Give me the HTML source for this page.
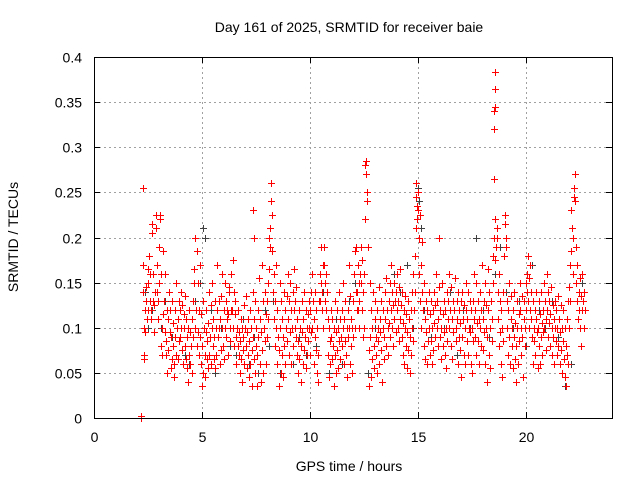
<!DOCTYPE html>
<html><head><meta charset="utf-8"><style>
html,body{margin:0;padding:0;background:#fff;}
svg{display:block;font-family:"Liberation Sans",sans-serif;}
</style></head><body>
<svg id="chart" width="640" height="480" viewBox="0 0 640 480" xmlns="http://www.w3.org/2000/svg">
<text x="349" y="32" font-size="14" text-anchor="middle">Day 161 of 2025, SRMTID for receiver baie</text>
<text x="349" y="471" font-size="14" text-anchor="middle">GPS time / hours</text>
<text x="0" y="0" font-size="14" text-anchor="middle" transform="translate(18,237) rotate(-90)">SRMTID / TECUs</text>
<g id="grid"></g>
<g id="ticks"></g>
<g id="black"></g>
<g id="red"></g>
<rect x="94.5" y="57.5" width="518" height="361" fill="none" stroke="#000" stroke-width="1"/>
</svg>
<script>
const xTicks=[0,5,10,15,20];
const yTicks=[0,0.05,0.1,0.15,0.2,0.25,0.3,0.35,0.4];
const yTickLabels=["0","0.05","0.1","0.15","0.2","0.25","0.3","0.35","0.4"];
const redPoints=[
[2.2,0.0],[2.2,0.002],[2.25,0.255],[2.25,0.14],[2.28,0.17],[2.3,0.07],[2.3,0.065],[2.32,0.1],[2.35,0.12],[2.36,0.095],[2.4,0.145],[2.42,0.13],[2.45,0.11],[2.48,0.165],[2.5,0.12],[2.52,0.15],[2.55,0.18],[2.58,0.13],[2.6,0.16],[2.62,0.11],[2.65,0.12],[2.68,0.205],[2.7,0.215],[2.72,0.13],[2.75,0.16],[2.78,0.095],[2.8,0.125],[2.82,0.14],[2.85,0.225],[2.87,0.21],[2.9,0.14],[2.92,0.17],[2.95,0.11],[2.97,0.13],[3.0,0.15],[3.02,0.19],[3.05,0.225],[3.07,0.22],[3.1,0.08],[3.12,0.16],[3.15,0.1],[3.17,0.07],[3.2,0.185],[3.22,0.115],[3.25,0.13],[3.27,0.095],[3.3,0.16],[3.32,0.085],[3.35,0.07],[3.37,0.12],[3.4,0.05],[3.42,0.11],[3.45,0.075],[3.47,0.14],[3.5,0.095],[3.52,0.12],[3.55,0.055],[3.57,0.09],[3.6,0.065],[3.62,0.13],[3.65,0.08],[3.67,0.105],[3.7,0.045],[3.72,0.06],[3.75,0.09],[3.77,0.12],[3.8,0.07],[3.82,0.15],[3.85,0.1],[3.87,0.065],[3.9,0.11],[3.92,0.13],[3.95,0.085],[3.97,0.12],[4.0,0.09],[4.02,0.14],[4.05,0.1],[4.07,0.075],[4.1,0.125],[4.12,0.06],[4.15,0.115],[4.17,0.1],[4.2,0.08],[4.22,0.135],[4.25,0.11],[4.27,0.065],[4.3,0.09],[4.32,0.055],[4.35,0.1],[4.37,0.04],[4.4,0.07],[4.42,0.12],[4.45,0.095],[4.47,0.06],[4.5,0.08],[4.52,0.11],[4.55,0.05],[4.57,0.13],[4.6,0.09],[4.62,0.15],[4.65,0.165],[4.67,0.1],[4.7,0.2],[4.72,0.12],[4.75,0.185],[4.77,0.08],[4.8,0.15],[4.82,0.095],[4.85,0.12],[4.87,0.07],[4.9,0.17],[4.92,0.09],[4.95,0.06],[4.97,0.115],[5.0,0.035],[5.02,0.08],[5.05,0.13],[5.07,0.05],[5.1,0.1],[5.12,0.07],[5.15,0.045],[5.17,0.095],[5.2,0.12],[5.22,0.065],[5.25,0.085],[5.27,0.055],[5.3,0.105],[5.32,0.14],[5.35,0.07],[5.37,0.09],[5.4,0.125],[5.42,0.06],[5.45,0.1],[5.47,0.15],[5.5,0.08],[5.52,0.11],[5.55,0.065],[5.57,0.09],[5.6,0.13],[5.62,0.055],[5.65,0.1],[5.67,0.07],[5.7,0.17],[5.72,0.12],[5.75,0.09],[5.77,0.13],[5.8,0.1],[5.82,0.06],[5.85,0.11],[5.87,0.075],[5.9,0.135],[5.92,0.1],[5.95,0.16],[5.97,0.08],[6.0,0.12],[6.02,0.065],[6.05,0.1],[6.07,0.15],[6.1,0.09],[6.12,0.13],[6.15,0.11],[6.17,0.12],[6.2,0.07],[6.22,0.115],[6.25,0.145],[6.27,0.14],[6.3,0.1],[6.32,0.085],[6.35,0.12],[6.37,0.16],[6.4,0.12],[6.42,0.175],[6.45,0.1],[6.47,0.14],[6.5,0.08],[6.52,0.115],[6.55,0.13],[6.57,0.09],[6.6,0.06],[6.62,0.1],[6.65,0.08],[6.67,0.12],[6.7,0.07],[6.72,0.095],[6.75,0.05],[6.77,0.085],[6.8,0.11],[6.82,0.065],[6.85,0.1],[6.87,0.04],[6.9,0.075],[6.92,0.09],[6.95,0.125],[6.97,0.06],[7.0,0.1],[7.02,0.08],[7.05,0.135],[7.07,0.055],[7.1,0.095],[7.12,0.07],[7.15,0.11],[7.17,0.045],[7.2,0.085],[7.22,0.12],[7.25,0.06],[7.27,0.1],[7.3,0.035],[7.32,0.075],[7.35,0.14],[7.37,0.09],[7.38,0.23],[7.4,0.065],[7.42,0.2],[7.42,0.11],[7.45,0.05],[7.47,0.13],[7.5,0.08],[7.52,0.1],[7.55,0.035],[7.57,0.07],[7.6,0.12],[7.62,0.09],[7.65,0.155],[7.67,0.06],[7.7,0.11],[7.72,0.04],[7.75,0.095],[7.77,0.17],[7.8,0.075],[7.82,0.13],[7.85,0.05],[7.87,0.1],[7.9,0.14],[7.92,0.085],[7.95,0.06],[7.97,0.115],[8.0,0.13],[8.02,0.09],[8.05,0.15],[8.07,0.11],[8.1,0.165],[8.12,0.2],[8.15,0.21],[8.17,0.19],[8.2,0.26],[8.22,0.24],[8.25,0.225],[8.27,0.185],[8.3,0.14],[8.32,0.16],[8.35,0.11],[8.37,0.13],[8.4,0.08],[8.42,0.17],[8.45,0.1],[8.47,0.06],[8.5,0.12],[8.52,0.09],[8.55,0.035],[8.57,0.075],[8.6,0.15],[8.62,0.1],[8.65,0.05],[8.67,0.13],[8.7,0.07],[8.72,0.11],[8.75,0.045],[8.77,0.09],[8.8,0.14],[8.82,0.08],[8.85,0.12],[8.87,0.06],[8.9,0.1],[8.92,0.135],[8.95,0.085],[8.97,0.16],[9.0,0.11],[9.02,0.07],[9.05,0.13],[9.07,0.095],[9.1,0.15],[9.12,0.12],[9.15,0.06],[9.17,0.1],[9.2,0.14],[9.22,0.08],[9.25,0.165],[9.27,0.12],[9.3,0.13],[9.32,0.1],[9.35,0.145],[9.37,0.09],[9.4,0.07],[9.42,0.11],[9.45,0.05],[9.47,0.085],[9.5,0.12],[9.52,0.065],[9.55,0.1],[9.57,0.04],[9.6,0.08],[9.62,0.13],[9.65,0.095],[9.67,0.06],[9.7,0.11],[9.72,0.075],[9.75,0.14],[9.77,0.09],[9.8,0.12],[9.82,0.055],[9.85,0.1],[9.87,0.07],[9.9,0.115],[9.92,0.085],[9.95,0.13],[9.97,0.1],[10.0,0.07],[10.02,0.12],[10.05,0.095],[10.07,0.14],[10.1,0.16],[10.12,0.1],[10.15,0.13],[10.17,0.06],[10.2,0.11],[10.22,0.09],[10.25,0.14],[10.27,0.075],[10.3,0.12],[10.32,0.05],[10.35,0.1],[10.37,0.07],[10.4,0.04],[10.42,0.13],[10.45,0.16],[10.47,0.13],[10.5,0.15],[10.52,0.19],[10.55,0.14],[10.57,0.12],[10.6,0.17],[10.62,0.1],[10.65,0.17],[10.67,0.19],[10.7,0.13],[10.72,0.15],[10.75,0.12],[10.77,0.16],[10.8,0.14],[10.82,0.11],[10.85,0.07],[10.87,0.1],[10.9,0.045],[10.92,0.085],[10.95,0.06],[10.97,0.12],[11.0,0.09],[11.02,0.065],[11.05,0.11],[11.07,0.08],[11.1,0.035],[11.12,0.1],[11.15,0.07],[11.17,0.13],[11.2,0.05],[11.22,0.095],[11.25,0.12],[11.27,0.075],[11.3,0.1],[11.32,0.055],[11.35,0.085],[11.37,0.14],[11.4,0.11],[11.42,0.065],[11.45,0.09],[11.47,0.12],[11.5,0.08],[11.52,0.15],[11.55,0.1],[11.57,0.06],[11.6,0.11],[11.62,0.085],[11.65,0.13],[11.67,0.07],[11.7,0.1],[11.72,0.045],[11.75,0.09],[11.77,0.12],[11.8,0.17],[11.82,0.1],[11.85,0.06],[11.87,0.135],[11.9,0.08],[11.92,0.11],[11.95,0.05],[11.97,0.1],[12.0,0.09],[12.02,0.13],[12.05,0.16],[12.07,0.1],[12.1,0.185],[12.12,0.14],[12.15,0.19],[12.17,0.12],[12.2,0.14],[12.22,0.12],[12.24,0.17],[12.26,0.1],[12.28,0.15],[12.3,0.13],[12.32,0.16],[12.35,0.19],[12.37,0.15],[12.4,0.12],[12.42,0.175],[12.45,0.09],[12.47,0.14],[12.5,0.1],[12.52,0.16],[12.55,0.22],[12.57,0.28],[12.6,0.285],[12.62,0.27],[12.65,0.25],[12.67,0.24],[12.7,0.19],[12.72,0.035],[12.75,0.075],[12.77,0.15],[12.8,0.09],[12.82,0.045],[12.85,0.12],[12.87,0.065],[12.9,0.1],[12.92,0.14],[12.95,0.08],[12.97,0.055],[13.0,0.11],[13.02,0.13],[13.05,0.09],[13.07,0.07],[13.1,0.12],[13.12,0.05],[13.15,0.1],[13.17,0.085],[13.2,0.145],[13.22,0.06],[13.25,0.11],[13.27,0.095],[13.3,0.13],[13.32,0.075],[13.35,0.04],[13.37,0.1],[13.4,0.12],[13.42,0.065],[13.45,0.09],[13.47,0.14],[13.5,0.11],[13.52,0.08],[13.55,0.155],[13.57,0.12],[13.6,0.1],[13.62,0.07],[13.65,0.13],[13.67,0.105],[13.7,0.15],[13.72,0.09],[13.75,0.12],[13.77,0.17],[13.8,0.14],[13.82,0.1],[13.85,0.125],[13.87,0.08],[13.9,0.15],[13.92,0.11],[13.95,0.13],[13.97,0.095],[14.0,0.14],[14.02,0.12],[14.05,0.16],[14.07,0.1],[14.1,0.13],[14.12,0.085],[14.15,0.145],[14.17,0.11],[14.2,0.165],[14.22,0.125],[14.25,0.09],[14.27,0.14],[14.3,0.105],[14.32,0.07],[14.35,0.12],[14.37,0.06],[14.4,0.1],[14.42,0.135],[14.45,0.08],[14.47,0.115],[14.5,0.055],[14.52,0.095],[14.55,0.13],[14.57,0.075],[14.6,0.11],[14.62,0.05],[14.65,0.09],[14.67,0.12],[14.7,0.07],[14.72,0.1],[14.75,0.14],[14.77,0.085],[14.8,0.16],[14.82,0.12],[14.85,0.18],[14.87,0.14],[14.9,0.21],[14.92,0.245],[14.94,0.26],[14.96,0.235],[14.98,0.22],[15.0,0.25],[15.02,0.23],[15.05,0.2],[15.07,0.16],[15.1,0.225],[15.12,0.13],[15.15,0.17],[15.17,0.1],[15.2,0.14],[15.22,0.195],[15.25,0.12],[15.27,0.08],[15.3,0.15],[15.32,0.11],[15.35,0.065],[15.37,0.13],[15.4,0.095],[15.42,0.06],[15.45,0.12],[15.47,0.085],[15.5,0.14],[15.52,0.1],[15.55,0.07],[15.57,0.115],[15.6,0.13],[15.62,0.085],[15.65,0.06],[15.67,0.1],[15.7,0.12],[15.72,0.075],[15.75,0.14],[15.77,0.105],[15.8,0.09],[15.82,0.125],[15.85,0.16],[15.87,0.1],[15.9,0.13],[15.92,0.08],[15.95,0.11],[15.97,0.145],[16.0,0.2],[16.02,0.09],[16.05,0.12],[16.07,0.065],[16.1,0.1],[16.12,0.15],[16.15,0.08],[16.17,0.115],[16.2,0.13],[16.22,0.095],[16.25,0.07],[16.27,0.12],[16.3,0.1],[16.32,0.055],[16.35,0.14],[16.37,0.085],[16.4,0.11],[16.42,0.13],[16.45,0.16],[16.47,0.1],[16.5,0.12],[16.52,0.08],[16.55,0.145],[16.57,0.11],[16.6,0.065],[16.62,0.13],[16.65,0.095],[16.7,0.12],[16.72,0.155],[16.75,0.1],[16.77,0.085],[16.8,0.13],[16.82,0.11],[16.85,0.06],[16.87,0.14],[16.9,0.09],[16.92,0.12],[16.95,0.075],[16.97,0.105],[17.0,0.13],[17.02,0.045],[17.05,0.09],[17.07,0.14],[17.1,0.11],[17.12,0.07],[17.15,0.125],[17.17,0.1],[17.2,0.06],[17.22,0.15],[17.25,0.12],[17.27,0.085],[17.3,0.11],[17.32,0.14],[17.35,0.07],[17.37,0.1],[17.4,0.13],[17.42,0.095],[17.45,0.06],[17.47,0.12],[17.5,0.1],[17.52,0.05],[17.55,0.085],[17.57,0.13],[17.6,0.11],[17.62,0.16],[17.65,0.09],[17.67,0.12],[17.7,0.07],[17.72,0.15],[17.75,0.105],[17.77,0.13],[17.8,0.085],[17.82,0.11],[17.85,0.06],[17.87,0.14],[17.9,0.1],[17.92,0.12],[17.95,0.08],[17.97,0.17],[18.0,0.11],[18.02,0.075],[18.05,0.13],[18.07,0.095],[18.1,0.15],[18.12,0.06],[18.15,0.1],[18.17,0.125],[18.2,0.04],[18.22,0.09],[18.25,0.165],[18.27,0.12],[18.3,0.07],[18.32,0.14],[18.35,0.1],[18.37,0.055],[18.4,0.13],[18.42,0.085],[18.45,0.11],[18.47,0.18],[18.5,0.15],[18.52,0.2],[18.54,0.265],[18.55,0.32],[18.55,0.34],[18.56,0.345],[18.56,0.365],[18.57,0.383],[18.58,0.22],[18.6,0.175],[18.62,0.19],[18.65,0.21],[18.67,0.2],[18.7,0.14],[18.72,0.11],[18.75,0.16],[18.77,0.08],[18.8,0.13],[18.82,0.095],[18.85,0.06],[18.87,0.12],[18.9,0.1],[18.92,0.045],[18.95,0.085],[18.97,0.14],[19.0,0.18],[19.02,0.225],[19.05,0.215],[19.07,0.19],[19.1,0.2],[19.12,0.13],[19.15,0.1],[19.17,0.07],[19.2,0.12],[19.22,0.09],[19.25,0.15],[19.27,0.06],[19.3,0.11],[19.32,0.135],[19.35,0.08],[19.37,0.1],[19.4,0.055],[19.42,0.12],[19.45,0.09],[19.47,0.14],[19.5,0.065],[19.52,0.105],[19.55,0.04],[19.57,0.08],[19.6,0.13],[19.62,0.1],[19.65,0.06],[19.67,0.115],[19.7,0.085],[19.72,0.15],[19.75,0.12],[19.77,0.07],[19.8,0.1],[19.82,0.135],[19.85,0.09],[19.87,0.045],[19.9,0.11],[19.92,0.13],[19.95,0.08],[19.97,0.1],[20.0,0.15],[20.02,0.12],[20.05,0.16],[20.07,0.14],[20.1,0.18],[20.12,0.13],[20.15,0.1],[20.17,0.155],[20.2,0.12],[20.22,0.17],[20.25,0.11],[20.27,0.14],[20.3,0.09],[20.32,0.13],[20.35,0.06],[20.37,0.1],[20.4,0.085],[20.42,0.12],[20.45,0.07],[20.47,0.11],[20.5,0.14],[20.52,0.095],[20.55,0.055],[20.57,0.1],[20.6,0.13],[20.62,0.08],[20.65,0.115],[20.67,0.06],[20.7,0.09],[20.72,0.14],[20.75,0.105],[20.77,0.07],[20.8,0.12],[20.82,0.095],[20.85,0.15],[20.87,0.1],[20.9,0.13],[20.92,0.075],[20.95,0.11],[20.97,0.16],[21.0,0.12],[21.02,0.09],[21.05,0.14],[21.07,0.105],[21.1,0.13],[21.12,0.08],[21.15,0.115],[21.17,0.145],[21.2,0.1],[21.22,0.07],[21.25,0.125],[21.27,0.09],[21.3,0.11],[21.32,0.06],[21.35,0.1],[21.37,0.13],[21.4,0.085],[21.42,0.12],[21.45,0.07],[21.47,0.1],[21.5,0.135],[21.52,0.08],[21.55,0.11],[21.57,0.06],[21.6,0.095],[21.62,0.125],[21.65,0.075],[21.67,0.1],[21.7,0.05],[21.72,0.085],[21.75,0.12],[21.77,0.065],[21.8,0.1],[21.82,0.045],[21.85,0.08],[21.87,0.035],[21.9,0.11],[21.92,0.07],[21.95,0.13],[21.97,0.06],[22.0,0.1],[22.02,0.145],[22.05,0.17],[22.07,0.13],[22.1,0.185],[22.12,0.23],[22.15,0.21],[22.17,0.16],[22.2,0.2],[22.22,0.245],[22.25,0.255],[22.27,0.27],[22.3,0.24],[22.32,0.19],[22.35,0.15],[22.37,0.13],[22.4,0.17],[22.42,0.11],[22.45,0.14],[22.47,0.12],[22.5,0.155],[22.52,0.1],[22.55,0.135],[22.57,0.08],[22.6,0.12],[22.62,0.16],[22.65,0.13],[22.68,0.1],[22.7,0.14],[22.73,0.12]
];
const blackPoints=[
[2.35,0.14],[2.5,0.1],[2.7,0.12],[3.1,0.1],[3.3,0.13],[3.6,0.09],[3.9,0.11],[4.2,0.07],[4.4,0.06],[4.7,0.13],[4.9,0.15],[5.05,0.21],[5.15,0.2],[5.4,0.12],[5.6,0.05],[5.9,0.1],[6.1,0.13],[6.3,0.08],[6.6,0.07],[6.9,0.11],[7.2,0.06],[7.4,0.09],[7.6,0.05],[7.9,0.12],[8.1,0.08],[8.3,0.13],[8.6,0.05],[8.9,0.1],[9.2,0.06],[9.5,0.09],[9.8,0.07],[10.0,0.12],[10.3,0.08],[10.6,0.14],[10.9,0.05],[11.2,0.11],[11.5,0.06],[11.8,0.13],[12.1,0.15],[12.4,0.12],[12.7,0.05],[13.0,0.1],[13.3,0.13],[13.6,0.07],[13.9,0.16],[14.2,0.14],[14.5,0.17],[14.8,0.1],[15.0,0.255],[15.05,0.24],[15.15,0.21],[15.3,0.12],[15.6,0.09],[15.9,0.13],[16.2,0.1],[16.5,0.14],[16.8,0.07],[17.1,0.12],[17.4,0.1],[17.7,0.2],[18.0,0.12],[18.3,0.09],[18.6,0.16],[18.8,0.19],[19.1,0.14],[19.4,0.1],[19.7,0.13],[20.0,0.08],[20.3,0.17],[20.6,0.12],[20.9,0.1],[21.2,0.13],[21.5,0.09],[21.8,0.035],[22.1,0.06],[22.4,0.13],[22.6,0.15]
];
const NS="http://www.w3.org/2000/svg";
const X0=94,X1=612,Y0=418,Y1=57;
function xs(t){return X0+(t/24)*(X1-X0);}
function ys(v){return Y0-(v/0.4)*(Y0-Y1);}
function mk(tag,attrs,parent){const e=document.createElementNS(NS,tag);for(const k in attrs)e.setAttribute(k,attrs[k]);parent.appendChild(e);return e;}
const grid=document.getElementById('grid'),ticks=document.getElementById('ticks');
xTicks.forEach(t=>{
  const x=Math.round(xs(t))+0.5;
  if(t>0){const g=mk('line',{x1:x,x2:x,y1:Y1,y2:Y0,stroke:'#a0a0a0','stroke-dasharray':'2,3'},grid);
  
  }
  mk('line',{x1:x,x2:x,y1:Y0,y2:Y0-6,stroke:'#000'},ticks);
  mk('line',{x1:x,x2:x,y1:Y1,y2:Y1+6,stroke:'#000'},ticks);
  const tx=mk('text',{x:x,y:Y0+24,'font-size':14,'text-anchor':'middle'},ticks);
  tx.textContent=String(t);
  
  
});
yTicks.forEach((v,i)=>{
  const y=Math.round(ys(v))+0.5;
  if(v>0&&v<0.4){const g=mk('line',{x1:X0,x2:X1,y1:y,y2:y,stroke:'#a0a0a0','stroke-dasharray':'2,3'},grid);
  
  }
  mk('line',{x1:X0,x2:X0+6,y1:y,y2:y,stroke:'#000'},ticks);
  mk('line',{x1:X1,x2:X1-6,y1:y,y2:y,stroke:'#000'},ticks);
  const tx=mk('text',{x:X0-12,y:y+5,'font-size':14,'text-anchor':'end'},ticks);
  tx.textContent=yTickLabels[i];
  
  
});
function plus(parent,t,v,color){
  const x=Math.round(xs(t))+0.5,y=Math.round(ys(v))+0.5;
  const p=mk('path',{d:`M${x-3.5},${y}H${x+3.5}M${x},${y-3.5}V${y+3.5}`,stroke:color,'stroke-width':1,fill:'none'},parent);
  
  
}
const gb=document.getElementById('black'),gr=document.getElementById('red');
blackPoints.forEach(p=>plus(gb,p[0],p[1],'#404040'));
redPoints.forEach(p=>plus(gr,p[0],p[1],'#ff0000'));
</script>
</body></html>
